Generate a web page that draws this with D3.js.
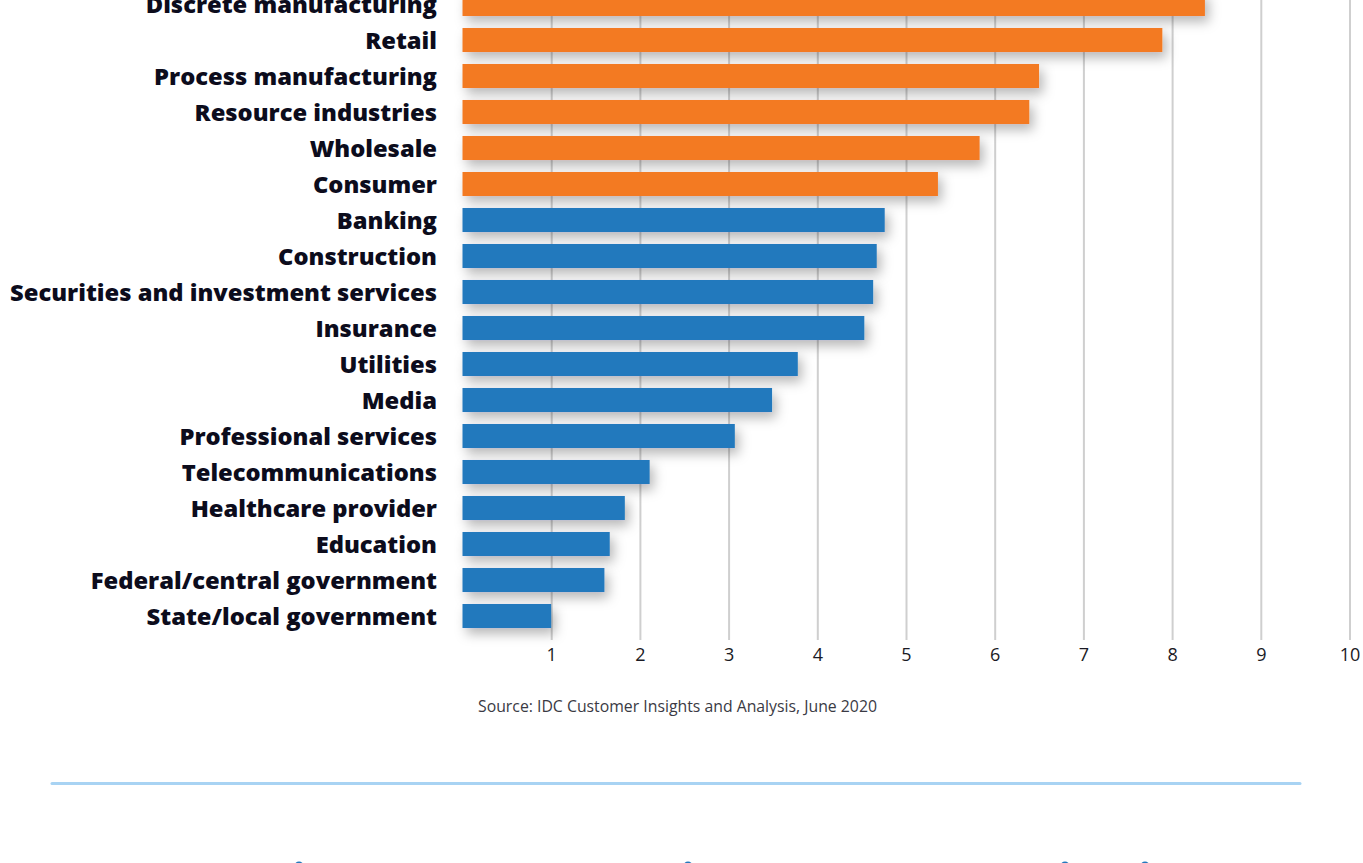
<!DOCTYPE html>
<html>
<head>
<meta charset="utf-8">
<script src="https://cdn.jsdelivr.net/npm/d3@7"></script>
<style>
  body { margin: 0; background: #fff; }
  svg { display: block; }
  .label { font-family: "Open Sans", Lato, sans-serif; font-weight: 800; font-size: 22px; fill: #0c0c1c; }
  .tick text { font-family: "Open Sans", Lato, sans-serif; font-size: 18px; fill: #1a1a24; }
  .source { font-family: "Open Sans", Lato, sans-serif; font-size: 14px; fill: #3a3a44; }
</style>
</head>
<body>
<svg width="1363" height="863"></svg>
<script>
// industries, top to bottom
const industries = [
  "Discrete manufacturing", "Retail", "Process manufacturing", "Resource industries",
  "Wholesale", "Consumer", "Banking", "Construction",
  "Securities and investment services", "Insurance", "Utilities", "Media",
  "Professional services", "Telecommunications", "Healthcare provider", "Education",
  "Federal/central government", "State/local government"
];
const values = [8.37, 7.89, 6.50, 6.39, 5.83, 5.36, 4.76, 4.67, 4.63, 4.53, 3.78, 3.49, 3.07, 2.11, 1.83, 1.66, 1.60, 1.00];
// the top six are highlighted in orange
const highlighted = ["Discrete manufacturing", "Retail", "Process manufacturing", "Resource industries", "Wholesale", "Consumer"];
const tickValues = [1, 2, 3, 4, 5, 6, 7, 8, 9, 10];
const sourceText = "Source: IDC Customer Insights and Analysis, June 2020";

let svg = d3.select("svg");

let x = d3.scaleLinear().domain([0, 10]).range([462.5, 1349.5]);
let y = d3.scaleBand().domain(industries).range([-14, 634]).paddingInner(0.333).paddingOuter(0.1665);

let defs = svg.append("defs");
let shadow = defs.append("filter").attr("id", "shadow")
    .attr("x", "-20%").attr("y", "-60%").attr("width", "140%").attr("height", "260%");
shadow.append("feDropShadow")
    .attr("dx", 4).attr("dy", 6).attr("stdDeviation", 6)
    .attr("flood-color", "#000").attr("flood-opacity", 0.28);

// gridlines + tick labels
let axis = svg.append("g")
    .attr("transform", "translate(0,640)")
    .call(d3.axisBottom(x).tickValues(tickValues).tickSize(-660).tickPadding(8).tickFormat(d3.format("d")));
axis.select(".domain").remove();
axis.selectAll(".tick line").attr("stroke", "#cfcfcf").attr("stroke-width", 2);
axis.selectAll(".tick text").attr("dy", "0.72em");

// bars
svg.append("g")
    .selectAll("rect")
    .data(industries)
    .enter()
    .append("rect")
    .attr("x", x(0))
    .attr("y", d => y(d))
    .attr("width", (d, i) => x(values[i]) - x(0))
    .attr("height", y.bandwidth())
    .attr("fill", d => highlighted.includes(d) ? "#f37a22" : "#2379bd")
    .attr("filter", "url(#shadow)");

// category labels
let labels = svg.append("g")
    .selectAll("text")
    .data(industries)
    .enter()
    .append("text")
    .attr("class", "label")
    .attr("x", 437)
    .attr("y", d => y(d) + y.bandwidth() / 2)
    .attr("dy", "0.36em")
    .attr("text-anchor", "end")
    .text(d => d);

// size the labels so the longest one spans what it does in the original
let longest = d3.max(labels.nodes(), n => n.getComputedTextLength());
labels.style("font-size", (22 * 427 / longest).toFixed(2) + "px");

// vertical axis line
svg.append("line")
    .attr("x1", 462).attr("x2", 462)
    .attr("y1", 0).attr("y2", 663)
    .attr("stroke", "#0a0a18").attr("stroke-width", 4)
    .attr("filter", "url(#shadow)");

let source = svg.append("text")
    .attr("class", "source")
    .attr("x", 478).attr("y", 712)
    .text(sourceText);
let sw = source.node().getComputedTextLength();
source.style("font-size", (14 * 399 / sw).toFixed(2) + "px");

// separator rule
svg.append("line")
    .attr("x1", 52).attr("x2", 1300)
    .attr("y1", 783.5).attr("y2", 783.5)
    .attr("stroke", "#a8d3f3").attr("stroke-width", 3)
    .attr("stroke-linecap", "round");

// tops of the icons below the fold
svg.append("g")
    .selectAll("circle")
    .data([299, 688, 1065, 1145])
    .enter()
    .append("circle")
    .attr("cx", d => d).attr("cy", 866).attr("r", 4.5)
    .attr("fill", "#2379bd");
</script>
</body>
</html>
